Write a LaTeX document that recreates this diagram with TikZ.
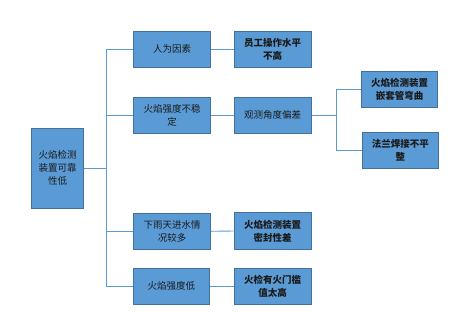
\documentclass[tikz,border=0pt]{standalone}
\usepackage{fontspec}
\newfontfamily\cjk{Noto Sans CJK SC}
\definecolor{boxfill}{HTML}{5B9BD5}
\definecolor{boxline}{HTML}{41719C}
\definecolor{txt}{HTML}{1A1A1A}
\tikzset{
  box/.style={draw=boxline, fill=boxfill, line width=0.9pt, rectangle, inner sep=0pt,
    align=center, text=txt, font=\cjk\fontsize{9.5}{13}\selectfont},
  bbox/.style={box, font=\cjk\bfseries\fontsize{9.5}{13}\selectfont},
  conn/.style={draw=boxfill, line width=0.9pt}
}
\begin{document}
\begin{tikzpicture}[x=1pt,y=-1pt]
\useasboundingbox (0,0) rectangle (458,311);
% root
\node[box, minimum width=51.6pt, minimum height=80pt] (root) at (57.5,168.3) {火焰检测\\装置可靠\\性低};
% level 1
\node[box, minimum width=77.4pt, minimum height=36.3pt] (l1a) at (172,49.2) {人为因素};
\node[box, minimum width=77.4pt, minimum height=36pt] (l1b) at (172,115.3) {火焰强度不稳\\定};
\node[box, minimum width=77.4pt, minimum height=36pt] (l1c) at (172,231.3) {下雨天进水情\\况较多};
\node[box, minimum width=76pt, minimum height=36pt] (l1d) at (171.3,286.3) {火焰强度低};
% level 2
\node[bbox, minimum width=77.3pt, minimum height=36.3pt] (l2a) at (272.7,49.2) {员工操作水平\\不高};
\node[box, minimum width=77.3pt, minimum height=36pt] (l2b) at (272.7,115.3) {观测角度偏差};
\node[bbox, minimum width=77.3pt, minimum height=36.6pt] (l2c) at (272.7,231) {火焰检测装置\\密封性差};
\node[bbox, minimum width=77.3pt, minimum height=36pt] (l2d) at (272.7,286.3) {火检有火门槛\\值太高};
% level 3
\node[bbox, minimum width=76.4pt, minimum height=36.3pt] (l3a) at (399.5,89.2) {火焰检测装置\\嵌套管弯曲};
\node[bbox, minimum width=76pt, minimum height=36pt] (l3b) at (400.3,150.3) {法兰焊接不平\\整};
% connectors
\coordinate (t) at (106.7,168.3);
\coordinate (b) at (336,115.3);
\draw[conn] (root.east) -- (t);
\draw[conn] (l1a.west) -| (t);
\draw[conn] (l1b.west) -| (t);
\draw[conn] (l1c.west) -| (t);
\draw[conn] (l1d.west) -| (t);
\draw[conn] (l1a.east) -- (l2a.west);
\draw[conn] (l1b.east) -- (l2b.west);
\draw[conn] (l1c.east) -- (l2c.west);
\draw[conn] (l1d.east) -- (l2d.west);
\draw[conn] (l2b.east) -- (b);
\draw[conn] (l3a.west) -| (b);
\draw[conn] (l3b.west) -| (b);
\end{tikzpicture}
\end{document}
